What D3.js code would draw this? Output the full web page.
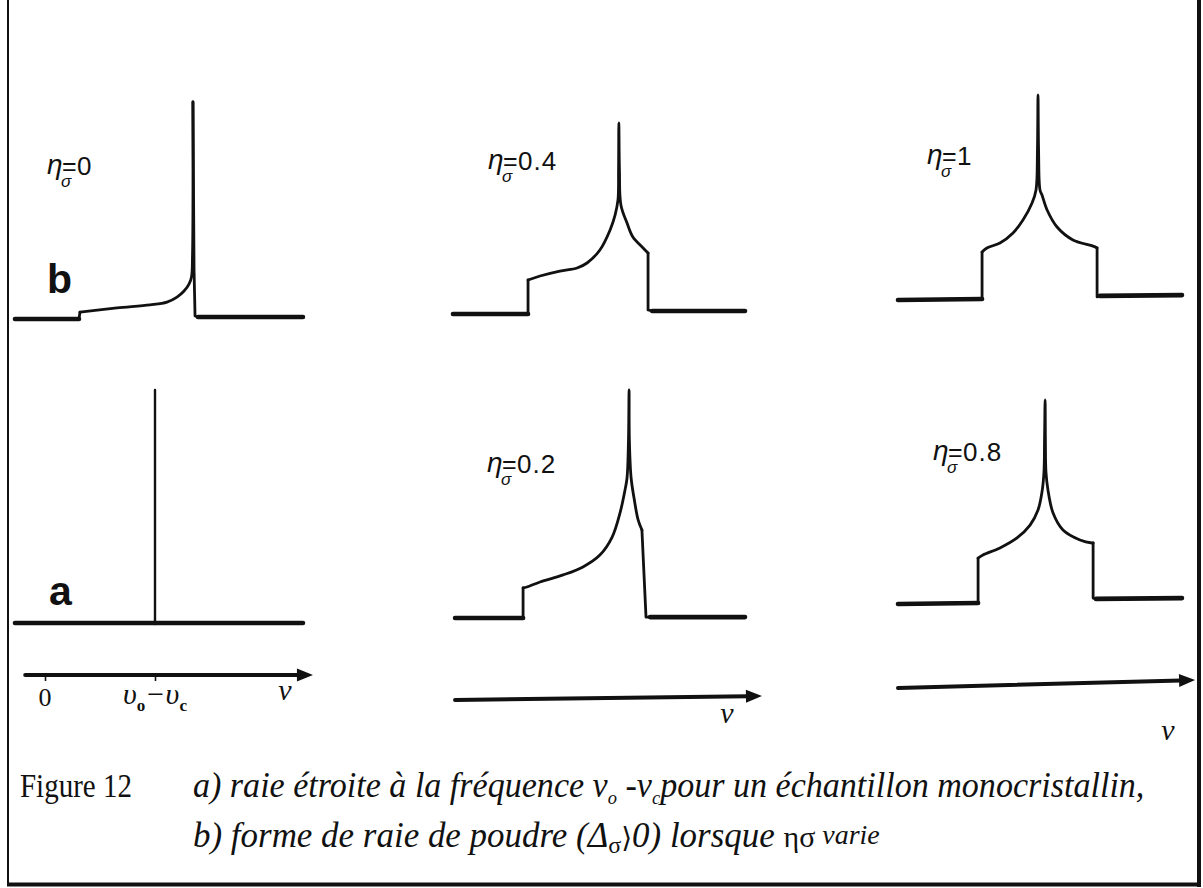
<!DOCTYPE html>
<html>
<head>
<meta charset="utf-8">
<script src="https://cdn.jsdelivr.net/npm/d3@7"></script>
<style>
  body { margin: 0; background: #fff; }
  svg { display: block; }
</style>
</head>
<body>
<svg id="fig" width="1203" height="888"></svg>
<script>
// ---- line shapes: frequency (column units) and intensity (spike top = 100) ----
// a) single crystal: one narrow line at vo - vc
const freqA = [-27.3, 100, 100, 100, 234.5];
const intA  = [0, 0, 100, 0, 0];

// b) powder patterns for several asymmetry parameters
const freqEta0 = [-27.3, 30.9, 31.8, 65.5, 95.5, 110.9, 120.0, 126.4, 130.9, 133.2, 134.1, 134.5, 135.5, 136.4, 139.1, 234.5];
const intEta0  = [0, 0, 3.2, 5.1, 6.5, 7.8, 10.1, 12.9, 16.1, 19.4, 29.5, 100, 22.6, 1.4, 0.9, 0.9];

const freqEta02 = [0.7, 24.0, 24.0, 25.3, 29.8, 37.7, 44.5, 50.3, 54.5, 57.2, 58.9, 59.6, 60.1, 60.3, 60.4, 61.0, 62.0, 63.4, 64.7, 66.1, 67.5, 100];
const intEta02  = [0, 0, 13.2, 13.6, 15.8, 18.9, 22.4, 27.6, 35.5, 46.1, 56.1, 61.4, 78.1, 100, 78.1, 61.4, 52.6, 43.0, 38.6, 0.4, 0.4, 0.4];

const freqEta04 = [0, 25.7, 25.7, 29.8, 36.6, 42.5, 45.9, 50.3, 53.8, 55.5, 56.5, 56.7, 56.8, 57.0, 57.5, 59.6, 61.6, 65.1, 66.8, 66.8, 68.2, 100];
const intEta04  = [0, 0, 17.8, 19.9, 22.5, 24.1, 26.7, 33.5, 44.0, 51.8, 59.7, 75.4, 100, 75.4, 57.1, 47.6, 40.3, 34.6, 31.9, 2.1, 1.6, 1.6];

const freqEta08 = [0, 28.2, 28.2, 29.9, 35.9, 41.9, 46.5, 49.3, 50.7, 51.4, 51.6, 51.8, 51.9, 52.1, 52.8, 54.6, 58.1, 64.1, 68.3, 68.7, 68.7, 69.7, 100];
const intEta08  = [0, 0.5, 22.5, 24.0, 27.5, 32.4, 38.7, 46.1, 54.9, 64.7, 80.4, 100, 80.4, 64.7, 55.9, 44.6, 36.3, 31.4, 29.9, 29.9, 2.9, 2.5, 2.9];

const freqEta1 = [0, 29.6, 29.6, 31.3, 35.9, 40.5, 44.0, 47.2, 48.6, 49.1, 49.3, 49.5, 50.0, 50.7, 52.5, 56.0, 61.6, 68.7, 70.1, 70.1, 71.1, 100];
const intEta1  = [0, 0.5, 23.4, 25.4, 27.8, 32.7, 39.0, 47.3, 53.7, 73.2, 100, 73.2, 53.7, 51.2, 43.9, 35.6, 29.3, 26.3, 25.4, 1.5, 2.0, 2.4];

// panel captions and axis ticks
const etaValues = ["0", "0.4", "1", "0.2", "0.8"];
const caseLetters = ["b", "a"];
const tickValues = [0, 100];

// ---- layout ----
const svg = d3.select("#fig");
const ink = "#111";

// three columns, each with its own frequency scale
const xLeft  = d3.scaleLinear().domain([0, 100]).range([45, 155]);
const xMid   = d3.scaleLinear().domain([0, 100]).range([453, 745]);
const xRight = d3.scaleLinear().domain([0, 100]).range([898, 1182]);

// smooth: index range of the curved part (between step edge and drop edge)
const panels = [
  { x: xLeft,  base: 319, top: 102, freq: freqEta0,  inten: intEta0,  smooth: [2, 11], eta: etaValues[0], lab: [47, 175] },
  { x: xMid,   base: 314, top: 123, freq: freqEta04, inten: intEta04, smooth: [2, 18], eta: etaValues[1], lab: [488, 170] },
  { x: xRight, base: 300, top: 95,  freq: freqEta1,  inten: intEta1,  smooth: [2, 18], eta: etaValues[2], lab: [927, 165] },
  { x: xLeft,  base: 623, top: 390, freq: freqA,     inten: intA,     smooth: null,    eta: null },
  { x: xMid,   base: 618, top: 390, freq: freqEta02, inten: intEta02, smooth: [2, 18], eta: etaValues[3], lab: [487, 473] },
  { x: xRight, base: 604, top: 400, freq: freqEta08, inten: intEta08, smooth: [2, 19], eta: etaValues[4], lab: [933, 461] }
];

// ---- frame ----
const frame = svg.append("g").attr("stroke", ink).attr("fill", "none");
frame.append("line").attr("x1", 8).attr("y1", 0).attr("x2", 8).attr("y2", 886).attr("stroke-width", 2);
frame.append("line").attr("x1", 1199).attr("y1", 0).attr("x2", 1199).attr("y2", 887).attr("stroke-width", 4);
frame.append("line").attr("x1", 7).attr("y1", 884.5).attr("x2", 1201).attr("y2", 884.5).attr("stroke-width", 4);

// ---- traces ----
const traces = svg.append("g").attr("fill", "none").attr("stroke", ink)
  .attr("stroke-linejoin", "round").attr("stroke-linecap", "round");
panels.forEach(p => {
  const y = d3.scaleLinear().domain([0, 100]).range([p.base, p.top]);
  const straight = d3.line().x(d => p.x(d[0])).y(d => y(d[1]));
  const curved = d3.line().x(d => p.x(d[0])).y(d => y(d[1])).curve(d3.curveCatmullRom.alpha(0.5));
  const pts = p.freq.map((f, i) => [f, p.inten[i]]);
  if (p.smooth) {
    const [i0, i1] = p.smooth;
    traces.append("path").attr("d", straight(pts.slice(0, i0 + 1))).attr("stroke-width", 2.8);
    traces.append("path").attr("d", curved(pts.slice(i0, i1 + 1))).attr("stroke-width", 2.8);
    traces.append("path").attr("d", straight(pts.slice(i1))).attr("stroke-width", 2.8);
  } else {
    traces.append("path").attr("d", straight(pts)).attr("stroke-width", 2.4);
  }
  // flat baseline runs are drawn heavier
  [pts.slice(0, 2), pts.slice(-2)].forEach(seg => {
    traces.append("path").attr("d", straight(seg)).attr("stroke-width", 4.6);
  });
});

// ---- eta labels ----
const labels = svg.append("g").attr("fill", ink).attr("font-family", "'Liberation Sans', Arial, sans-serif");
panels.filter(p => p.eta !== null).forEach(p => {
  const [lx, ly] = p.lab;
  labels.append("text").attr("x", lx).attr("y", ly - 1)
    .attr("font-size", 28).attr("font-style", "italic").text("η");
  labels.append("text").attr("x", lx + 15).attr("y", ly)
    .attr("font-size", 25).text("=");
  labels.append("text").attr("x", lx + 14).attr("y", ly + 12)
    .attr("font-size", 17).attr("font-style", "italic").text("σ");
  labels.append("text").attr("x", lx + 30).attr("y", ly)
    .attr("font-size", 26).attr("letter-spacing", 1).text(p.eta);
});

// case letters
labels.append("text").attr("x", 47).attr("y", 293)
  .attr("font-size", 41).attr("font-weight", "bold").text(caseLetters[0]);
labels.append("text").attr("x", 49).attr("y", 605)
  .attr("font-size", 41).attr("font-weight", "bold").text(caseLetters[1]);

// ---- frequency axes ----
const axes = svg.append("g");
function arrow(x1, y1, x2, y2) {
  const ang = Math.atan2(y2 - y1, x2 - x1);
  const len = 16, half = 6.5;
  const bx = x2 - len * Math.cos(ang), by = y2 - len * Math.sin(ang);
  axes.append("line").attr("x1", x1).attr("y1", y1).attr("x2", bx + 2 * Math.cos(ang)).attr("y2", by + 2 * Math.sin(ang))
    .attr("stroke", ink).attr("stroke-width", 4).attr("stroke-linecap", "round");
  axes.append("path")
    .attr("d", `M${x2},${y2}L${bx - half * Math.sin(ang)},${by + half * Math.cos(ang)}L${bx + half * Math.sin(ang)},${by - half * Math.cos(ang)}Z`)
    .attr("fill", ink);
}

// left column: ticks at 0 and vo - vc
const leftAxisY = 675;
const ax = axes.append("g").attr("transform", `translate(0,${leftAxisY})`)
  .call(d3.axisBottom(xLeft).tickValues(tickValues).tickSize(6).tickFormat(""));
ax.select(".domain").remove();
ax.selectAll(".tick line").attr("stroke", ink).attr("stroke-width", 1.6);
arrow(xLeft(-18), leftAxisY, xLeft(243.6), leftAxisY);

arrow(xMid(0.7), 700, xMid(105.8), 696);
arrow(xRight(0), 688, xRight(104.6), 680);

const serif = "'Liberation Serif', 'Times New Roman', serif";
const axLab = svg.append("g").attr("fill", ink).attr("font-family", serif);
axLab.append("text").attr("x", xLeft(tickValues[0])).attr("y", 706)
  .attr("text-anchor", "middle").attr("font-size", 26).text("0");
const vv = axLab.append("text").attr("x", xLeft(tickValues[1])).attr("y", 704)
  .attr("text-anchor", "middle").attr("font-size", 30).attr("font-style", "italic");
vv.append("tspan").text("υ");
vv.append("tspan").attr("dy", 7).attr("font-size", 17).attr("font-weight", "bold").attr("font-style", "normal").text("o");
vv.append("tspan").attr("dy", -7).text("−υ");
vv.append("tspan").attr("dy", 7).attr("font-size", 17).attr("font-weight", "bold").attr("font-style", "normal").text("c");

[[285, 700], [727, 723], [1168, 740]].forEach(([x, y]) => {
  axLab.append("text").attr("x", x).attr("y", y).attr("text-anchor", "middle")
    .attr("font-size", 30).attr("font-style", "italic").text("ν");
});

// ---- caption ----
const cap = svg.append("g").attr("fill", ink).attr("font-family", serif);
function fitWidth(sel, x0, target) {
  const w = sel.node().getBBox().width;
  sel.attr("transform", `translate(${x0},0) scale(${target / w},1) translate(${-x0},0)`);
}
const fig = cap.append("text").attr("x", 20).attr("y", 797).attr("font-size", 34).text("Figure 12");
fitWidth(fig, 20, 112);

const l1 = cap.append("text").attr("x", 193).attr("y", 797).attr("font-size", 35).attr("font-style", "italic");
l1.append("tspan").text("a) raie étroite à la fréquence ν");
l1.append("tspan").attr("dy", 7).attr("font-size", 19).text("o");
l1.append("tspan").attr("dy", -7).text(" -ν");
l1.append("tspan").attr("dy", 7).attr("font-size", 19).text("c");
l1.append("tspan").attr("dy", -7).text("pour un échantillon monocristallin,");
fitWidth(l1, 193, 952);

const l2 = cap.append("text").attr("x", 193).attr("y", 847).attr("font-size", 35).attr("font-style", "italic");
l2.append("tspan").text("b) forme de raie de poudre (Δ");
l2.append("tspan").attr("dy", 6).attr("font-size", 24).attr("font-style", "normal").text("σ");
l2.append("tspan").attr("dy", -6).attr("font-family", "'DejaVu Serif', serif").attr("font-style", "normal").attr("font-size", 28).text("⟩");
l2.append("tspan").text("0) lorsque ");
l2.append("tspan").attr("font-style", "normal").attr("font-size", 30).text("ησ");
l2.append("tspan").attr("dy", -3).attr("font-size", 28).text(" varie");
fitWidth(l2, 193, 687);
</script>
</body>
</html>
